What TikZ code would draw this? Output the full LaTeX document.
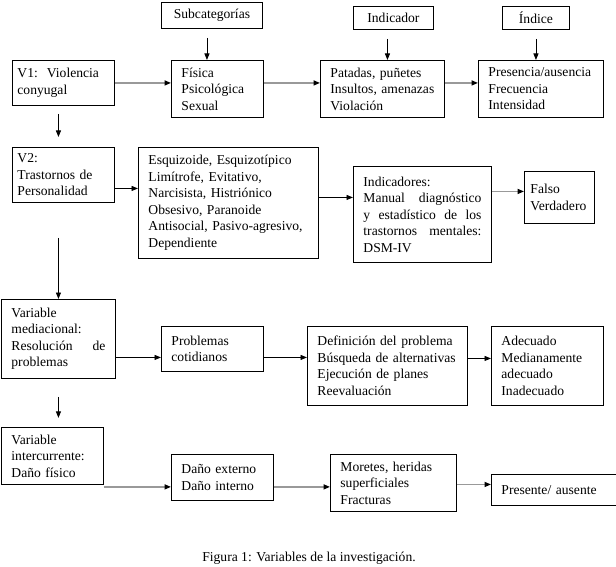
\documentclass[tikz,border=0pt]{standalone}
\usepackage{fontspec}
\setmainfont{Liberation Serif}
\usetikzlibrary{arrows.meta}

\begin{document}
\begin{tikzpicture}[x=1pt, y=-1pt,
        font=\fontsize{13.6}{16.5}\selectfont,
        caja/.style={draw, line width=0.9pt, anchor=north west, inner xsep=10pt, inner ysep=0pt, align=left},
        titulo/.style={draw, line width=0.9pt, anchor=north west, inner sep=0pt, align=center},
        flecha/.style={line width=0.8pt, -{Triangle[length=6.5pt, width=5pt]}},
        flechagris/.style={line width=1.5pt, draw=gray!80, -{Triangle[length=6.5pt, width=5pt, color=black]}}]
        \useasboundingbox (0,0) rectangle (616,567);

        % Headers
        \node[titulo, minimum width=101pt, minimum height=26pt] (subcat) at (161,2) {Subcategorías};
        \node[titulo, minimum width=80pt, minimum height=23pt] (indicador) at (353,6) {Indicador};
        \node[titulo, minimum width=67pt, minimum height=23pt] (indice) at (502,6) {Índice};

        % V1
        \node[caja, inner xsep=5pt, text width=92pt, minimum height=45pt] (v1) at (12,60) {V1:\ \ Violencia\\conyugal};
        \node[caja, text width=72pt, minimum height=57pt] (fisica) at (171,60) {Física\\Psicológica\\Sexual};
        \node[caja, text width=104pt, minimum height=57pt] (patadas) at (320,60) {Patadas, puñetes\\Insultos, amenazas\\Violación};
        \node[caja, text width=105pt, minimum height=57pt] (presencia) at (478,60) {Presencia/ausencia\\Frecuencia\\Intensidad};

        \draw[flecha] ([xshift=-5pt,yshift=-9pt]subcat.south) -- ([xshift=-5pt]subcat.south |- fisica.north);
        \draw[flecha] ([xshift=-6pt,yshift=-9pt]indicador.south) -- ([xshift=-6pt]indicador.south |- patadas.north);
        \draw[flecha] ([yshift=-9pt]indice.south) -- (indice.south |- presencia.north);
        \draw[flechagris] (v1.east) -- (v1.east -| fisica.west);
        \draw[flechagris] (v1.east -| fisica.east) -- (v1.east -| patadas.west);
        \draw[flechagris] (v1.east -| patadas.east) -- (v1.east -| presencia.west);

        % V2
        \node[caja, inner xsep=5pt, text width=92pt, minimum height=55pt] (v2) at (12,147) {V2:\\Trastornos de\\Personalidad};
        \node[caja, text width=160pt, minimum height=111pt] (esquizoide) at (138,147) {Esquizoide, Esquizotípico\\Limítrofe, Evitativo,\\Narcisista, Histriónico\\Obsesivo, Paranoide\\Antisocial, Pasivo-agresivo,\\Dependiente};
        \node[caja, text width=118pt, minimum height=96pt] (dsm) at (353,166) {Indicadores:\\Manual\hfill diagnóstico\\y\hfill estadístico\hfill de\hfill los\\trastornos\hfill mentales:\\DSM-IV};
        \node[caja, inner xsep=6pt, text width=58pt, minimum height=52pt] (falso) at (524,171) {Falso\\Verdadero};

        \draw[flecha] ([xshift=-5pt,yshift=-8pt]v1.south) -- ([xshift=-5pt,yshift=10pt]v2.north);
        \draw[flecha] ([yshift=-13.5pt]v2.east) -- ([yshift=-13.5pt]v2.east -| esquizoide.west);
        \draw[flecha] ([yshift=5.5pt]esquizoide.east) -- ([yshift=5.5pt]esquizoide.east -| dsm.west);
        \draw[flechagris] ([yshift=6pt]falso.west -| dsm.east) -- ([yshift=6pt]falso.west);

        % Variable mediacional
        \node[caja, text width=94pt, minimum height=79pt] (vm) at (1,299) {Variable\\mediacional:\\Resolución\hfill de\\problemas};
        \node[caja, text width=82pt, minimum height=45pt] (problemas) at (161,326) {Problemas\\cotidianos};
        \node[caja, text width=140pt, minimum height=79pt] (definicion) at (307,326) {Definición del problema\\Búsqueda de alternativas\\Ejecución de planes\\Reevaluación};
        \node[caja, text width=92pt, minimum height=79pt] (adecuado) at (491,326) {Adecuado\\Medianamente\\adecuado\\Inadecuado};

        \draw[flecha] ([yshift=-35pt]v2.south -| vm.north) -- (vm.north);
        \draw[flecha] ([yshift=-18.5pt]vm.east) -- ([yshift=-18.5pt]vm.east -| problemas.west);
        \draw[flecha] ([yshift=-18.5pt]vm.east -| problemas.east) -- ([yshift=-18.5pt]vm.east -| definicion.west);
        \draw[flecha] ([yshift=7.5pt]definicion.east) -- ([yshift=7.5pt]definicion.east -| adecuado.west);

        % Variable intercurrente
        \node[caja, text width=82pt, minimum height=57pt] (vi) at (1,427) {Variable\\intercurrente:\\Daño físico};
        \node[caja, text width=82pt, minimum height=46pt] (dano) at (171,454) {Daño externo\\Daño interno};
        \node[caja, text width=106pt, minimum height=57pt] (moretes) at (330,454) {Moretes, heridas\\superficiales\\Fracturas};
        \node[caja, text width=105pt, minimum height=31pt] (presente) at (491,474) {Presente/ ausente};

        \draw[flecha] ([yshift=-18pt]vm.south) -- ([yshift=-39pt]vm.south);
        \draw[flechagris] ([yshift=-2pt]vi.south east) -- ([yshift=-2pt]vi.south east -| dano.west);
        \draw[flechagris] ([yshift=-2pt]vi.south east -| dano.east) -- ([yshift=-2pt]vi.south east -| moretes.west);
        \draw[flechagris] ([yshift=-1.5pt]moretes.east) -- ([yshift=-1.5pt]moretes.east -| presente.west);

        % Caption
        \node (caption) at (309,558) {Figura 1: Variables de la investigación.};
    \end{tikzpicture}
\end{document}
